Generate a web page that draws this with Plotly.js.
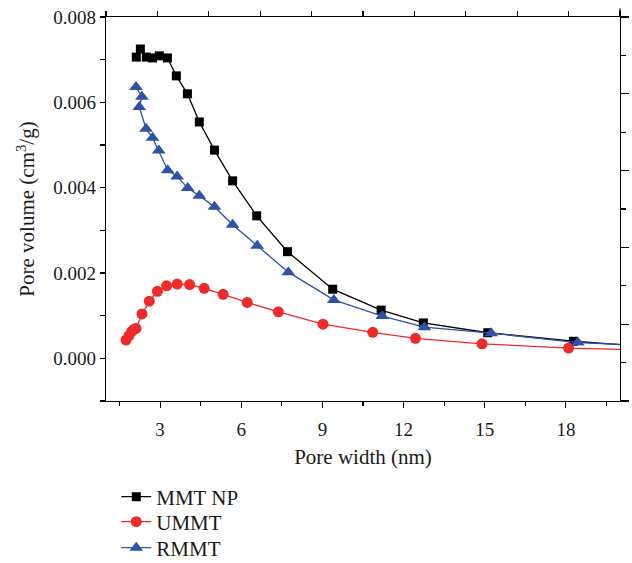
<!DOCTYPE html>
<html>
<head>
<meta charset="utf-8">
<script src="https://cdn.plot.ly/plotly-3.0.1.min.js"></script>
<style>html,body{margin:0;padding:0;background:#fff;}#chart{width:632px;height:563px;}</style>
</head>
<body>
<div id="chart"></div>
<script>
// Pore width (nm) and pore volume (cm3/g)
var mmtX = [2.12, 2.27, 2.49, 2.72, 2.97, 3.27, 3.60, 4.01, 4.45, 5.01, 5.68, 6.57, 7.71, 9.38, 11.17, 12.73, 15.11, 18.28, 21.5];
var mmtY = [0.00706, 0.00725, 0.00706, 0.00704, 0.00709, 0.00704, 0.00662, 0.00620, 0.00554, 0.00488, 0.00416, 0.00334, 0.00250, 0.00162, 0.00113, 0.00083, 0.00060, 0.00040, 0.00025];

var ummtX = [1.74, 1.85, 1.95, 2.03, 2.11, 2.33, 2.60, 2.90, 3.24, 3.63, 4.09, 4.63, 5.33, 6.22, 7.37, 9.02, 10.86, 12.44, 14.90, 18.10, 21.5];
var ummtY = [0.00043, 0.00053, 0.00063, 0.00068, 0.00070, 0.00104, 0.00134, 0.00157, 0.00170, 0.00174, 0.00173, 0.00164, 0.00150, 0.00131, 0.00109, 0.00080, 0.00061, 0.00047, 0.00034, 0.00024, 0.00019];

var rmmtX = [2.11, 2.33, 2.23, 2.48, 2.72, 2.95, 3.28, 3.63, 4.02, 4.45, 5.01, 5.68, 6.59, 7.74, 9.42, 11.21, 12.77, 15.24, 18.44, 21.5];
var rmmtY = [0.00636, 0.00613, 0.00589, 0.00538, 0.00517, 0.00487, 0.00441, 0.00426, 0.00399, 0.00381, 0.00355, 0.00313, 0.00264, 0.00202, 0.00137, 0.00099, 0.00073, 0.00059, 0.00037, 0.00029];

var seriesNames = ['MMT NP', 'UMMT', 'RMMT'];
var xTickVals = [3, 6, 9, 12, 15, 18];
var yTickVals = [0.000, 0.002, 0.004, 0.006, 0.008];
var yTickText = ['0.000', '0.002', '0.004', '0.006', '0.008'];

var FONT = '"Liberation Serif", "Times New Roman", serif';
var black = '#000000', red = '#ee2a2a', blue = '#2f52a6';

var traces = [
  {x: mmtX, y: mmtY, name: seriesNames[0], legend: 'legend', mode: 'lines+markers', type: 'scatter',
   line: {color: black, width: 1.3}, marker: {symbol: 'square', size: 9, color: black}},
  {x: ummtX, y: ummtY, name: seriesNames[1], legend: 'legend2', mode: 'lines+markers', type: 'scatter',
   line: {color: red, width: 1.3}, marker: {symbol: 'circle', size: 11, color: red}},
  {x: rmmtX, y: rmmtY, name: seriesNames[2], legend: 'legend3', mode: 'lines+markers', type: 'scatter',
   line: {color: blue, width: 1.3}, marker: {symbol: 'triangle-up', size: 12, color: blue}},
  // invisible trace to carry the top and right frame axes
  {x: [0], y: [0], xaxis: 'x2', yaxis: 'y2', mode: 'markers', marker: {opacity: 0}, showlegend: false, hoverinfo: 'skip'}
];

function legendAt(yPaper) {
  return {x: 0.02, y: yPaper, xanchor: 'left', yanchor: 'middle', orientation: 'v',
          font: {family: FONT, size: 21, color: '#1a1a1a'}, bgcolor: 'rgba(0,0,0,0)'};
}

var layout = {
  width: 632, height: 563,
  margin: {l: 106, r: 12, t: 17, b: 162, autoexpand: false},
  paper_bgcolor: '#fff', plot_bgcolor: '#fff',
  font: {family: FONT, size: 19, color: '#1a1a1a'},
  showlegend: true,
  legend: legendAt(-0.25),
  legend2: legendAt(-0.3151),
  legend3: legendAt(-0.3828),
  xaxis: {
    range: [1, 20], tickvals: xTickVals, ticks: 'outside', ticklen: 6, tickwidth: 1.2, tickcolor: '#000',
    ticklabelstandoff: 5,
    showline: true, linecolor: '#000', linewidth: 1.3, showgrid: false, zeroline: false,
    minor: {dtick: 1.5, tick0: 0, ticks: 'outside', ticklen: 4, tickwidth: 1.2, tickcolor: '#000', showgrid: false},
    tickfont: {family: FONT, size: 19, color: '#1a1a1a'},
    title: {text: 'Pore width (nm)', font: {family: FONT, size: 21, color: '#1a1a1a'}, standoff: 10}
  },
  yaxis: {
    range: [-0.001, 0.008], tickvals: yTickVals, ticktext: yTickText, ticks: 'outside', ticklen: 5, tickwidth: 1.2, tickcolor: '#000',
    showline: true, linecolor: '#000', linewidth: 1.3, showgrid: false, zeroline: false,
    minor: {dtick: 0.001, tick0: 0, ticks: 'outside', ticklen: 5, tickwidth: 1.2, tickcolor: '#000', showgrid: false},
    tickfont: {family: FONT, size: 19, color: '#1a1a1a'},
    title: {text: 'Pore volume (cm<sup>3</sup>/g)', font: {family: FONT, size: 21, color: '#1a1a1a'}, standoff: 12}
  },
  xaxis2: {
    overlaying: 'x', side: 'top', range: [0, 10], dtick: 1, tick0: 0, ticks: 'outside', ticklen: 5, tickwidth: 1.2, tickcolor: '#000',
    showticklabels: false, showline: true, linecolor: '#000', linewidth: 1.3, showgrid: false, zeroline: false
  },
  yaxis2: {
    overlaying: 'y', side: 'right', range: [0, 5], dtick: 1, tick0: 0, ticks: 'outside', ticklen: 8, tickwidth: 1.2, tickcolor: '#000',
    minor: {dtick: 0.5, tick0: 0, ticks: 'outside', ticklen: 5, tickwidth: 1.2, tickcolor: '#000', showgrid: false},
    showticklabels: false, showline: true, linecolor: '#000', linewidth: 1.3, showgrid: false, zeroline: false
  },
  shapes: [
    {type: 'line', xref: 'paper', yref: 'paper', x0: 1, x1: 1, y0: 1, y1: 1.022, line: {color: '#000', width: 1.3}}
  ]
};

Plotly.newPlot('chart', traces, layout, {displayModeBar: false, staticPlot: true});
</script>
</body>
</html>
